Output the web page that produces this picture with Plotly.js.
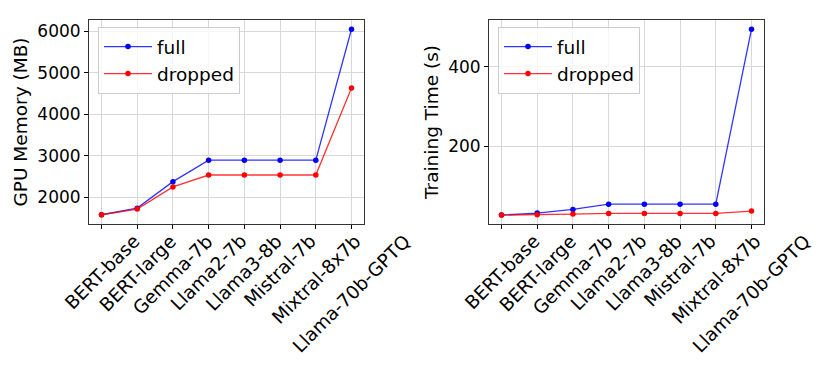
<!DOCTYPE html>
<html>
<head>
<meta charset="utf-8">
<script src="https://cdn.plot.ly/plotly-3.0.1.min.js"></script>
<style>
  html, body { margin: 0; padding: 0; background: #fff; }
  #myPlot { width: 830px; height: 369px; }
</style>
</head>
<body>
<div id="myPlot"></div>
<script>
// Define Data
const models = ['BERT-base', 'BERT-large', 'Gemma-7b', 'Llama2-7b', 'Llama3-8b',
                'Mistral-7b', 'Mixtral-8x7b', 'Llama-70b-GPTQ'];

// GPU memory (MB)
const memFull = [1575, 1735, 2375, 2893, 2893, 2893, 2893, 6055];
const memDropped = [1575, 1712, 2247, 2535, 2535, 2535, 2535, 4633];

// training time (s)
const timeFull = [27.4, 32.4, 41.6, 54.8, 54.8, 54.8, 54.8, 495];
const timeDropped = [27.4, 28.1, 29.9, 31.6, 31.6, 31.6, 31.6, 37.4];

const idx = models.map((m, i) => i);
const font = 'DejaVu Sans, sans-serif';

function series(y, name, color, lineColor, xa, ya, leg) {
    return {
        x: idx, y: y,
        mode: 'lines+markers',
        name: name,
        line: {color: lineColor, width: 1.3},
        marker: {color: color, size: 5.5},
        type: 'scatter',
        xaxis: xa, yaxis: ya,
        legend: leg,
    };
}

const blue = '#0000ff', blueLine = 'rgba(0,0,255,0.8)';
const red = '#ff0000', redLine = 'rgba(255,0,0,0.8)';

const data = [
    series(memFull, 'full', blue, blueLine, 'x', 'y', 'legend'),
    series(memDropped, 'dropped', red, redLine, 'x', 'y', 'legend'),
    series(timeFull, 'full', blue, blueLine, 'x2', 'y2', 'legend2'),
    series(timeDropped, 'dropped', red, redLine, 'x2', 'y2', 'legend2'),
];

const yBottom = 1 - 224 / 369;

function xaxisDef(domain, anchor) {
    return {
        domain: domain,
        anchor: anchor,
        range: [-0.35, 7.35],
        tickvals: idx,
        showticklabels: false,
        ticks: 'outside', ticklen: 4, tickcolor: '#000',
        showgrid: true, gridcolor: '#d8d8d8', gridwidth: 1,
        zeroline: false,
        showline: true, mirror: true, linecolor: '#333', linewidth: 1,
    };
}

function yaxisDef(anchor, range, tickvals, title) {
    return {
        domain: [yBottom, 1 - 20 / 369],
        anchor: anchor,
        range: range,
        tickvals: tickvals,
        ticks: 'outside', ticklen: 4, tickcolor: '#000',
        tickfont: {family: font, size: 17, color: '#000'},
        showgrid: true, gridcolor: '#d8d8d8', gridwidth: 1,
        zeroline: false,
        showline: true, mirror: true, linecolor: '#333', linewidth: 1,
        title: {text: title, font: {family: font, size: 18.5, color: '#000'}, standoff: 4},
    };
}

function legendDef(x) {
    return {
        x: x, y: 1 - 27 / 369,
        xanchor: 'left', yanchor: 'top',
        xref: 'paper', yref: 'paper',
        bgcolor: 'rgba(255,255,255,0.8)',
        bordercolor: '#cccccc', borderwidth: 1,
        font: {family: font, size: 18.5, color: '#000'},
        itemwidth: 48,
    };
}

// rotated category labels, centred under each tick like the original
const annotations = [];
['x', 'x2'].forEach(xa => {
    models.forEach((m, i) => {
        annotations.push({
            x: i, y: yBottom,
            xref: xa, yref: 'paper',
            text: m,
            showarrow: false,
            textangle: -45,
            xanchor: 'center', yanchor: 'top',
            yshift: -4,
            font: {family: font, size: 18.5, color: '#000'},
        });
    });
});

// Define Layout
const layout = {
    width: 830, height: 369,
    margin: {l: 0, r: 0, t: 0, b: 0},
    showlegend: true,
    xaxis: xaxisDef([89 / 830, 364 / 830], 'y'),
    xaxis2: xaxisDef([489 / 830, 764 / 830], 'y2'),
    yaxis: yaxisDef('x', [1352, 6278], [2000, 3000, 4000, 5000, 6000], 'GPU Memory (MB)'),
    yaxis2: yaxisDef('x2', [5, 518], [200, 400], 'Training Time (s)'),
    legend: legendDef(98 / 830),
    legend2: legendDef(498 / 830),
    annotations: annotations,
    paper_bgcolor: '#ffffff',
    plot_bgcolor: '#ffffff',
};

// Display using Plotly
Plotly.newPlot('myPlot', data, layout, {displayModeBar: false, staticPlot: true});
</script>
</body>
</html>
